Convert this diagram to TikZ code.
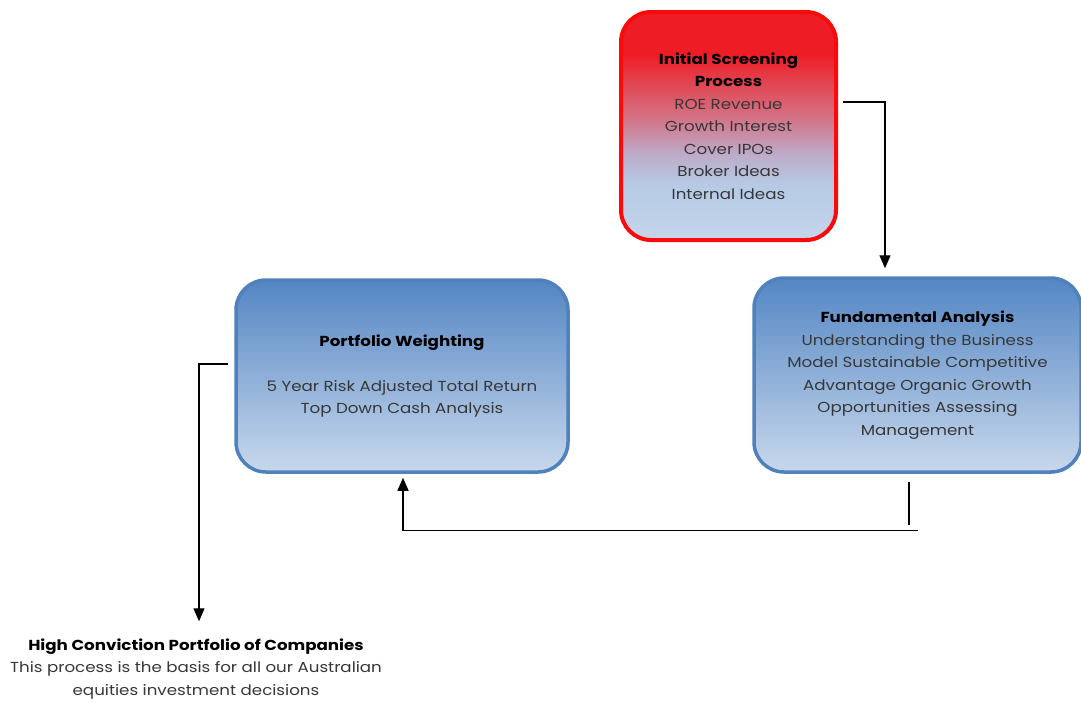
\documentclass[tikz,border=0pt]{standalone}
\usepackage{fontspec}
\setmainfont[FakeStretch=1.15]{Poppins}
\usetikzlibrary{arrows.meta,calc,positioning}
\definecolor{screenEdge}{RGB}{250,10,10}
\definecolor{screenTop}{RGB}{238,28,36}
\definecolor{screenMid}{RGB}{210,120,140}
\definecolor{screenLav}{RGB}{190,170,200}
\definecolor{screenBot}{RGB}{182,202,230}
\definecolor{boxEdge}{RGB}{79,129,189}
\definecolor{boxTop}{RGB}{84,134,196}
\definecolor{boxBot}{RGB}{200,216,236}
\definecolor{bodyText}{RGB}{55,55,55}
\pgfdeclareverticalshading{screenfade}{100bp}{color(0bp)=(screenBot!80!white);
color(25bp)=(screenBot!80!white); color(37bp)=(screenBot); color(44bp)=(screenLav);
color(51bp)=(screenMid); color(66bp)=(screenTop); color(100bp)=(screenTop)}
\tikzstyle{stage} = [rounded corners=30pt, draw=boxEdge, line width=3.5pt,
top color=boxTop, bottom color=boxBot, text=bodyText, align=center,
font=\fontsize{14.5}{22.5}\selectfont]
\tikzstyle{screen} = [stage, draw=screenEdge, line width=4pt, shading=screenfade]
\tikzstyle{arrow} = [line width=1.4pt,-{Triangle[width=11pt,length=13pt]}]
\tikzstyle{link} = [line width=1.4pt]
\newcommand{\hd}[1]{{\bfseries\color{black}#1}}

\begin{document}
\begin{tikzpicture}[x=1pt,y=-1pt]
            \useasboundingbox (0,0) rectangle (1081,702);
            \node[screen, minimum width=215pt, minimum height=228pt] (screening) at (728.5,126)
            {\hd{Initial Screening}\\\hd{Process}\\ROE Revenue\\Growth Interest\\Cover IPOs\\Broker Ideas\\Internal Ideas};
            \node[stage, minimum width=332pt, minimum height=192pt] (weighting) at (402,376)
            {\hd{Portfolio Weighting}\\[22.5pt]5 Year Risk Adjusted Total Return\\Top Down Cash Analysis};
            \node[stage, minimum width=327pt, minimum height=194pt] (fundamental) at (917.5,375)
            {\hd{Fundamental Analysis}\\Understanding the Business\\Model Sustainable Competitive\\Advantage Organic Growth\\Opportunities Assessing\\Management};
            \node[align=center, text=bodyText, font=\fontsize{14.5}{22.5}\selectfont] (conviction) at (196,669)
            {\hd{High Conviction Portfolio of Companies}\\This process is the basis for all our Australian\\equities investment decisions};
            % connectors
            \draw[arrow] ($(screening.east)+(5,-24)$) -| ($(fundamental.north)+(-32.5,-8)$);
            \draw[link] ($(fundamental.south)+(-8.5,8)$) -- ++(0,43);
            \draw[arrow] ($(fundamental.south)+(0,57)$) -| ($(weighting.south)+(1,4)$);
            \draw[arrow] ($(weighting.west)+(-6,-12)$) -| ($(conviction.north)+(3,-14)$);
        \end{tikzpicture}
\end{document}
